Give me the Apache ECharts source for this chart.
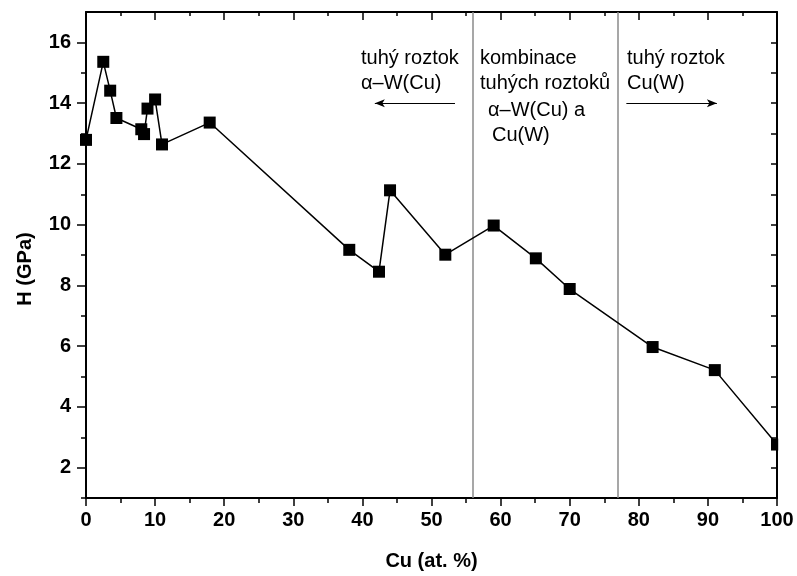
<!DOCTYPE html>
<html>
<head>
<meta charset="utf-8">
<script src="https://cdn.jsdelivr.net/npm/echarts@6/dist/echarts.min.js"></script>
<style>
html,body{margin:0;padding:0;background:#fff;}
#c{width:797px;height:576px;}
</style>
</head>
<body>
<div id="c"></div>
<script>
// Data
var cu = [0, 2.5, 3.5, 4.4, 8.0, 8.4, 8.9, 10.0, 11.0, 17.9, 38.1, 42.4, 44.0, 52.0, 59.0, 65.1, 70.0, 82.0, 91.0, 100];
var hardness = [12.79, 15.36, 14.41, 13.51, 13.14, 12.98, 13.82, 14.12, 12.64, 13.36, 9.17, 8.45, 11.13, 9.01, 9.97, 8.89, 7.88, 5.97, 5.21, 2.76];
var yMajorTicks = [2, 4, 6, 8, 10, 12, 14, 16];
var yMinorTicks = [1, 3, 5, 7, 9, 11, 13, 15];
var yAllTicks = [2, 3, 4, 5, 6, 7, 8, 9, 10, 11, 12, 13, 14, 15, 16];
var boundaries = [56, 77];
var arrowLeft = [[53.4, 14], [41.8, 14]];
var arrowRight = [[78.2, 14], [91.3, 14]];

var FONT = '"Liberation Sans", Arial, sans-serif';
var chart = echarts.init(document.getElementById('c'), null, {renderer: 'canvas'});

var points = cu.map(function (x, i) { return [x, hardness[i]]; });

var lab = {fontFamily: FONT, fontWeight: 'bold', fontSize: 20, color: '#000'};
var axLine = {show: true, lineStyle: {color: '#000', width: 2}};

function txt(x, y, s) {
  return {type: 'text', x: x, y: y, silent: true,
    style: {text: s, fontFamily: FONT, fontSize: 20, fill: '#000', verticalAlign: 'middle', align: 'left'}};
}

var labels = [
  txt(361, 58, 'tuhý roztok'),
  txt(361, 83, 'α–W(Cu)'),
  txt(480, 58, 'kombinace'),
  txt(480, 83, 'tuhých roztoků'),
  txt(488, 110, 'α–W(Cu) a'),
  txt(492, 135, 'Cu(W)'),
  txt(627, 58, 'tuhý roztok'),
  txt(627, 83, 'Cu(W)')
];

chart.setOption({
  animation: false,
  backgroundColor: '#fff',
  grid: {left: 86, right: 20, top: 12, bottom: 74, containLabel: false},
  xAxis: [{
    type: 'value', position: 'bottom', min: 0, max: 100, interval: 10,
    name: 'Cu (at. %)', nameLocation: 'middle', nameGap: 53,
    nameTextStyle: lab,
    axisLine: axLine,
    axisTick: {show: true, inside: false, length: 8, lineStyle: {color: '#000', width: 1.5}},
    minorTick: {show: true, splitNumber: 2, length: 5, lineStyle: {color: '#000', width: 1.5}},
    axisLabel: Object.assign({margin: 12}, lab),
    splitLine: {show: false}
  }, {
    type: 'value', position: 'top', min: 0, max: 100, interval: 10,
    axisLine: axLine,
    axisTick: {show: true, inside: true, length: 8, lineStyle: {color: '#000', width: 1.5}},
    minorTick: {show: true, splitNumber: 2, length: 4, lineStyle: {color: '#000', width: 1.5}},
    axisLabel: {show: false},
    splitLine: {show: false}
  }],
  yAxis: [{
    type: 'value', position: 'left', min: 1, max: 17,
    name: 'H (GPa)', nameLocation: 'middle', nameGap: 51,
    nameTextStyle: Object.assign({padding: [0, 28, 0, 0]}, lab),
    axisLine: axLine,
    axisTick: {show: true, inside: false, length: 9, customValues: yMajorTicks, lineStyle: {color: '#000', width: 1.5}},
    axisLabel: Object.assign({margin: 15, customValues: yMajorTicks}, lab),
    splitLine: {show: false}
  }, {
    type: 'value', position: 'left', min: 1, max: 17,
    axisLine: {show: false},
    axisTick: {show: true, inside: false, length: 5, customValues: yMinorTicks, lineStyle: {color: '#000', width: 1.5}},
    axisLabel: {show: false, customValues: yMinorTicks},
    splitLine: {show: false}
  }, {
    type: 'value', position: 'right', min: 1, max: 17,
    axisLine: axLine,
    axisTick: {show: true, inside: true, length: 6, customValues: yAllTicks, lineStyle: {color: '#000', width: 1.5}},
    axisLabel: {show: false, customValues: yAllTicks},
    splitLine: {show: false}
  }],
  series: [{
    type: 'line',
    data: points,
    xAxisIndex: 0, yAxisIndex: 0,
    symbol: 'rect', symbolSize: 12,
    itemStyle: {color: '#000'},
    lineStyle: {color: '#000', width: 1.5},
    z: 5,
    markLine: {
      silent: true, symbol: 'none', animation: false,
      label: {show: false},
      lineStyle: {color: '#8a8a8a', width: 1.5, type: 'solid'},
      data: boundaries.map(function (b) { return {xAxis: b}; })
    }
  }, {
    type: 'line', data: [], xAxisIndex: 0, yAxisIndex: 0,
    markLine: {
      silent: true, symbol: ['none', 'arrow'], symbolSize: [6, 10], animation: false,
      label: {show: false},
      lineStyle: {color: '#000', width: 1, type: 'solid'},
      data: [
        [{coord: arrowLeft[0]}, {coord: arrowLeft[1]}],
        [{coord: arrowRight[0]}, {coord: arrowRight[1]}]
      ]
    }
  }],
  graphic: labels
});

// Clip the part of the last marker that lies outside the plot frame (as in the original)
var last = points[points.length - 1];
var px = chart.convertToPixel({gridIndex: 0}, last);
var rightEdge = chart.convertToPixel({xAxisIndex: 0}, 100);
chart.setOption({
  graphic: labels.concat([{
    type: 'rect', silent: true, z: 100,
    shape: {x: rightEdge + 1.2, y: px[1] - 8, width: 12, height: 16},
    style: {fill: '#fff'}
  }])
});
</script>
</body>
</html>
